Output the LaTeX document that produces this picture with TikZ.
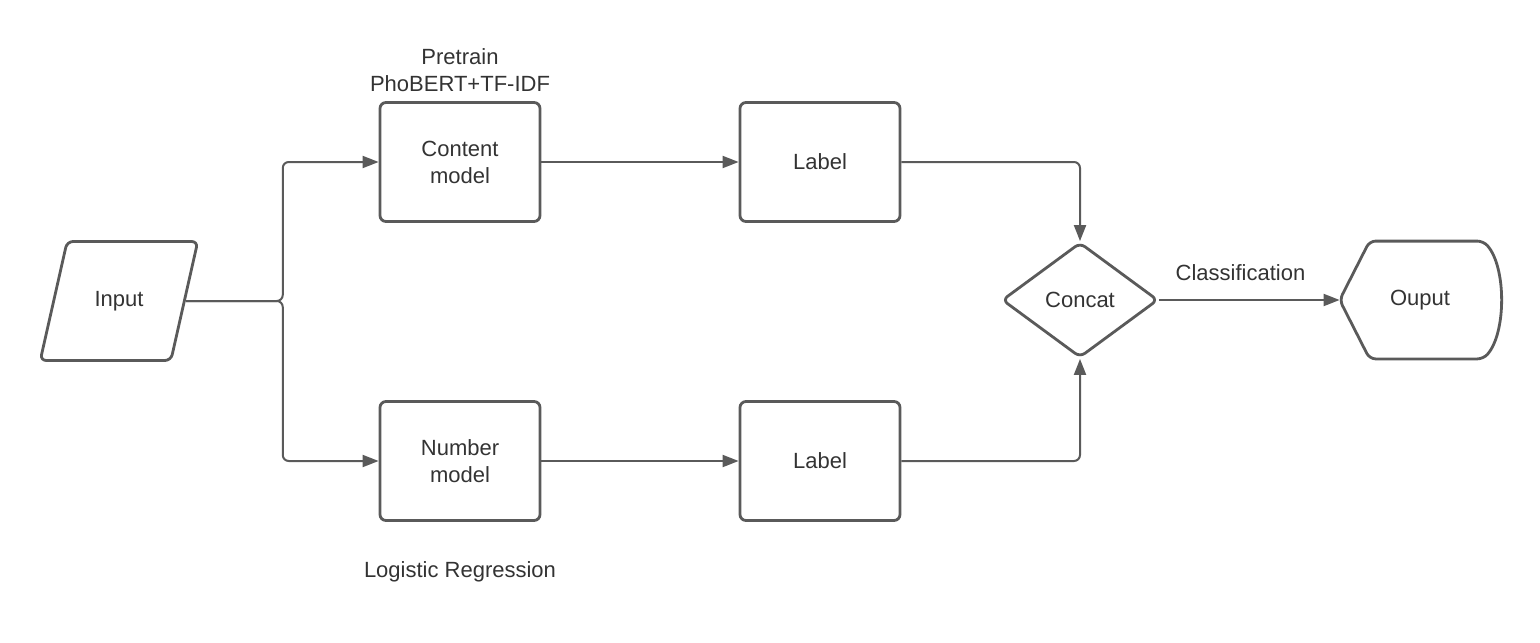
\documentclass[tikz,border=0pt]{standalone}
\usepackage{fontspec}
\setmainfont{Liberation Sans}
\usetikzlibrary{shapes.geometric,arrows.meta}
\definecolor{linegray}{HTML}{5A5A5A}
\definecolor{textgray}{HTML}{333333}
\begin{document}
\begin{tikzpicture}[x=0.5pt,y=-0.5pt, font=\fontsize{11}{13.5}\selectfont, text=textgray,
 box/.style={draw=linegray,line width=1.4pt,rounded corners=3pt,align=center,minimum width=80pt,minimum height=59.5pt},
 inbox/.style={trapezium,trapezium left angle=64,trapezium right angle=116,trapezium stretches=true,draw=linegray,line width=1.4pt,rounded corners=3pt,minimum width=79pt,minimum height=59.5pt},
 decision/.style={diamond,draw=linegray,line width=1.4pt,rounded corners=3pt,minimum width=78pt,minimum height=57.5pt,inner sep=0pt},
 flow/.style={-{Triangle[length=8pt,width=6pt]},draw=linegray,line width=1pt,rounded corners=3pt}]
\useasboundingbox (0,0) rectangle (1540,642);
\node[inbox] (input) at (119,301) {Input};
\node[box] (content) at (460,162) {Content\\model};
\node[box] (number) at (460,461) {Number\\model};
\node[box] (labA) at (820,162) {Label};
\node[box] (labB) at (820,461) {Label};
\node[decision] (concat) at (1080,300) {Concat};
\node[minimum width=80pt,minimum height=58.5pt] (out) at (1420,300) {Ouput};
\node[align=center] (pretrain) at (460,70) {Pretrain\\PhoBERT+TF-IDF};
\node (logreg) at (460,572) {Logistic Regression};
% display shape for the output
\draw[linegray,line width=1.4pt,rounded corners=3pt] (out.west) -- ([xshift=15pt]out.north west)
 -- ([xshift=-8.5pt]out.north east) .. controls ([xshift=3pt,yshift=-13pt]out.north east) and ([xshift=3pt,yshift=13pt]out.south east) .. ([xshift=-8.5pt]out.south east)
 -- ([xshift=15pt]out.south west) -- cycle;
\draw[flow] (input.east) -- ++(97,0) |- (content.west);
\draw[flow] (input.east) -- ++(97,0) |- (number.west);
\draw[flow] (content) -- (labA);
\draw[flow] (number) -- (labB);
\draw[flow] (labA.east) -| (concat.north);
\draw[flow] (labB.east) -| (concat.south);
\draw[flow] (concat.east) -- (out.west) node[pos=0.45,above=6pt] {Classification};
\end{tikzpicture}
\end{document}
